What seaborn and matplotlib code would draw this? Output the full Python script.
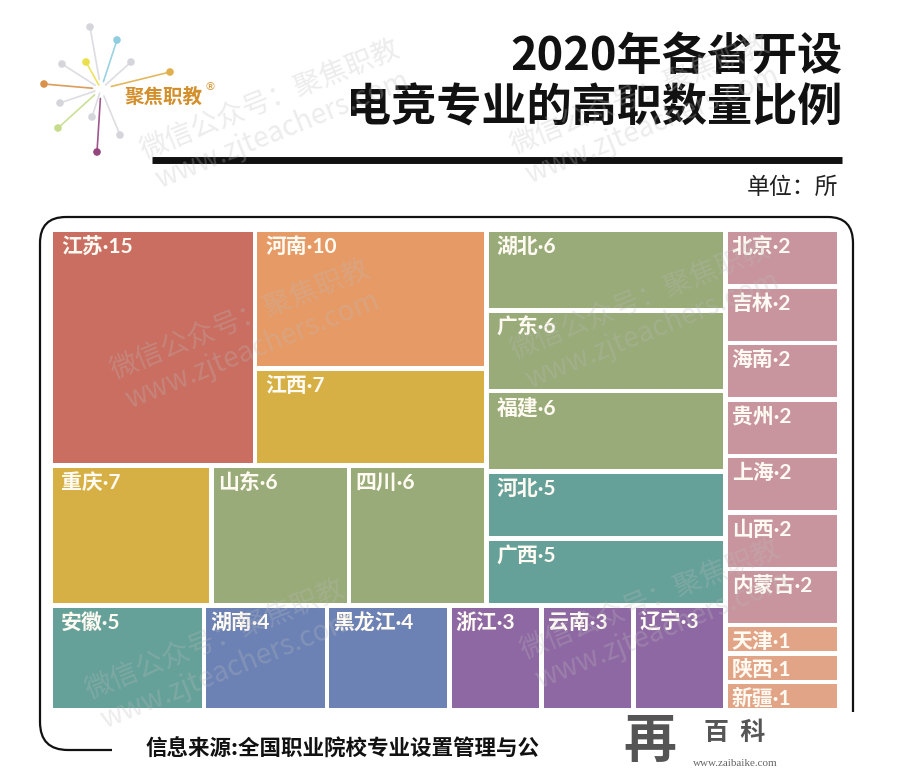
import numpy as np
import matplotlib as mpl
import matplotlib.pyplot as plt
import seaborn as sns
from matplotlib.patches import Rectangle, PathPatch
from matplotlib.path import Path

sns.set_theme(style="white")
plt.rcParams['font.family'] = ['Noto Sans CJK SC', 'DejaVu Sans']

# data: number of higher vocational colleges per province offering e-sports major (2020)
provinces = ['江苏', '河南', '江西', '重庆', '山东', '四川', '湖北', '广东', '福建',
             '河北', '广西', '安徽', '湖南', '黑龙江', '浙江', '云南', '辽宁',
             '北京', '吉林', '海南', '贵州', '上海', '山西', '内蒙古', '天津', '陕西', '新疆']
counts = [15, 10, 7, 7, 6, 6, 6, 6, 6, 5, 5, 5, 4, 4, 3, 3, 3, 2, 2, 2, 2, 2, 2, 2, 1, 1, 1]

count_levels = [15, 10, 7, 6, 5, 4, 3, 2, 1]
level_colors = sns.color_palette(['#C96E60', '#E69A66', '#D6B045', '#98AB78', '#65A199',
                                  '#6C82B5', '#8E68A3', '#C8959E', '#E2A486'])
color_of = dict(zip(count_levels, level_colors))

# split tree: 'h' = children side by side, 'v' = children stacked
tree = ('h', [('v', [('h', [('v', [('h', [0, ('v', [1, 2])]),
                                   ('h', [3, 4, 5])]),
                             ('v', [6, 7, 8, 9, 10])]),
                     ('h', [11, 12, 13, 14, 15, 16])]),
              ('v', list(range(17, 27)))])


def weight(node):
    if isinstance(node, int):
        return counts[node]
    return sum(weight(k) for k in node[1])


rects = {}


def layout(node, x0, y0, x1, y1):
    if isinstance(node, int):
        rects[node] = (x0, y0, x1, y1)
        return
    direction, kids = node
    total = float(weight(node))
    pos = x0 if direction == 'h' else y0
    for k in kids:
        if direction == 'h':
            step = (x1 - x0) * weight(k) / total
            layout(k, pos, y0, pos + step, y1)
        else:
            step = (y1 - y0) * weight(k) / total
            layout(k, x0, pos, x1, pos + step)
        pos += step


layout(tree, 51, 230, 839, 710)

fig = plt.figure(figsize=(9, 7.84), dpi=100)
ax = fig.add_axes([0, 0, 1, 1])
ax.set_xlim(0, 900)
ax.set_ylim(784, 0)
ax.axis('off')

label_font = ['Lato', 'Noto Sans CJK SC', 'DejaVu Sans']
gap = 2.2
for i, (x0, y0, x1, y1) in rects.items():
    ax.add_patch(Rectangle((x0 + gap, y0 + gap), x1 - x0 - 2 * gap, y1 - y0 - 2 * gap,
                           facecolor=color_of[counts[i]], edgecolor='none', zorder=2))
    pad = 8 if (x1 - x0) > 150 else 4
    ax.text(x0 + gap + pad, y0 + gap + 15, provinces[i] + '·' + str(counts[i]),
            color='#fffaf2', fontsize=15, fontweight='bold', family=label_font,
            va='center', ha='left', zorder=4)

# frame around the treemap
verts = [(853, 712), (853, 243), (853, 217), (828, 217), (66, 217), (40, 217), (40, 243),
         (40, 722), (40, 750), (68, 750), (112, 750)]
codes = [Path.MOVETO, Path.LINETO, Path.CURVE3, Path.CURVE3, Path.LINETO, Path.CURVE3,
         Path.CURVE3, Path.LINETO, Path.CURVE3, Path.CURVE3, Path.LINETO]
ax.add_patch(PathPatch(Path(verts, codes), facecolor='none', edgecolor='#111111', lw=1.6, zorder=1))

# title
ax.text(842, 57, '2020年各省开设', fontsize=32.5, fontweight='heavy', ha='right', va='center', color='#111111')
ax.text(842, 108, '电竞专业的高职数量比例', fontsize=32.5, fontweight='heavy', ha='right', va='center', color='#111111')
ax.plot([152, 842], [159.5, 159.5], color='#111111', lw=5, solid_capstyle='butt')
ax.text(838, 187, '单位：所', fontsize=16.5, ha='right', va='center', color='#222222')

# source note
ax.text(145, 749, '信息来源:全国职业院校专业设置管理与公', fontsize=15.5, fontweight='bold',
        ha='left', va='center', color='#111111')

# logo
cx, cy = 101, 89
dots = [((90, 27), '#d5d5dc'), ((117, 40), '#8fcde0'), ((86, 62), '#ece04a'), ((62, 64), '#d5d5dc'),
        ((131, 62), '#d5d5dc'), ((44, 84), '#d8924a'), ((170, 72), '#e0b04e'), ((60, 103), '#d5d5dc'),
        ((58, 128), '#c6dc8c'), ((92, 117), '#d5d5dc'), ((97, 152), '#94457e'), ((120, 135), '#d5d5dc')]
for (dx, dy), c in dots:
    sx = cx + (dx - cx) * 0.15
    sy = cy + (dy - cy) * 0.15
    lc = '#d9d9e0' if c == '#d5d5dc' else c
    ax.plot([sx, dx], [sy, dy], color=lc, lw=1.2, alpha=0.9, zorder=3)
    ax.scatter([dx], [dy], s=30, color=c, zorder=3, edgecolor='none')
ax.text(124, 97, '聚焦职教', fontsize=14, fontweight='bold', color='#d38f2c', ha='left', va='center')
ax.text(205, 87, '®', fontsize=8, family='DejaVu Sans', color='#d38f2c', ha='left', va='center')

# watermarks
marks = [(270, 100), (240, 320), (215, 640), (640, 300), (650, 600), (640, 95)]
for mx, my in marks:
    ax.text(mx, my, '微信公众号：聚焦职教', fontsize=20, rotation=22, color='#bdbdbd', alpha=0.28,
            ha='center', va='center', zorder=5)
    ax.text(mx + 12, my + 30, 'www.zjteachers.com', fontsize=20, rotation=22, color='#bdbdbd', alpha=0.28,
            ha='center', va='center', zorder=5)

# zaibaike mark
ax.text(650, 742, '再', fontsize=38, fontweight='heavy', color='#555555', ha='center', va='center', zorder=6)
ax.text(735, 733, '百  科', fontsize=18, fontweight='heavy', color='#555555', ha='center', va='center', zorder=6)
ax.text(735, 763, 'www.zaibaike.com', fontsize=8, family='Liberation Serif', color='#666666',
        ha='center', va='center', zorder=6)

fig.savefig('out.png', dpi=100)
